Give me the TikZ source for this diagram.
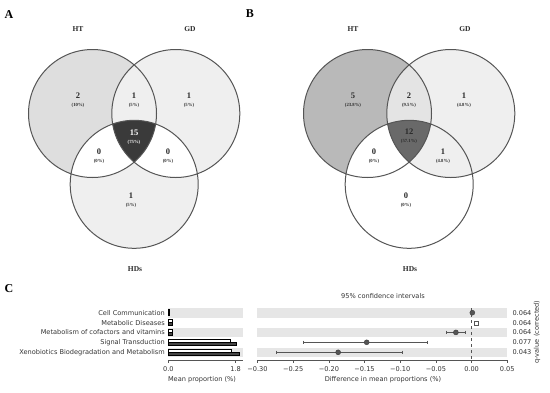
\documentclass[tikz,border=0pt]{standalone}
\usepackage{fontspec}
\setmainfont{Liberation Serif}
\newfontfamily\plotfont{DejaVu Sans}
\usetikzlibrary{positioning}
\definecolor{vennDraw}{HTML}{555555}
\definecolor{vennText}{HTML}{2A2A2A}
\definecolor{aHTfill}{HTML}{DEDEDE}
\definecolor{aLight}{HTML}{EFEFEF}
\definecolor{aTri}{HTML}{3A3A3A}
\definecolor{bHTfill}{HTML}{B9B9B9}
\definecolor{bHTGD}{HTML}{E4E4E4}
\definecolor{bTri}{HTML}{696969}
\definecolor{bandFill}{HTML}{E6E6E6}
\definecolor{plotDraw}{HTML}{555555}
\definecolor{plotText}{HTML}{333333}

\begin{document}
\begin{tikzpicture}[
  x=1pt, y=-1pt,
  vennline/.style={draw=vennDraw, line width=1pt},
  setlab/.style={font=\bfseries\fontsize{7.5}{8}\selectfont, text=vennText},
  panel/.style={font=\bfseries\fontsize{12}{12}\selectfont, text=black},
  cnt/.style={align=center, text=vennText, inner sep=0pt,
              font=\bfseries\fontsize{8.5}{8.5}\selectfont},
  ptxt/.style={font=\plotfont\fontsize{6.6}{7}\selectfont, text=plotText},
  rowlab/.style={ptxt, anchor=east, inner sep=1pt},
  band/.style={fill=bandFill},
  barA/.style={fill=white, draw=black, line width=0.5pt},
  barB/.style={fill=plotDraw!80!black, draw=black, line width=0.5pt},
  spine/.style={draw=plotDraw, line width=0.5pt},
  errbar/.style={draw=plotDraw, line width=0.8pt},
  dot/.style={circle, fill=plotDraw, draw=plotDraw!70!black, minimum size=5pt, inner sep=0pt},
  sq/.style={rectangle, fill=white, draw=plotDraw, minimum size=4pt, inner sep=0pt},
]
\useasboundingbox (0,0) rectangle (550,392);
\def\vennR{64}
\newcommand{\pctsz}{\bfseries\fontsize{4.7}{5}\selectfont}

% ---- Panel A: Venn diagram ----
\node[panel] (pA) at (9,15) {A};
\coordinate (htA) at (92.5,113.5);
\coordinate (gdA) at (175.8,113.5);
\coordinate (hdA) at (134.2,184.3);
\fill[aHTfill] (htA) circle (\vennR);
\fill[aLight]  (gdA) circle (\vennR);
\fill[aLight]  (hdA) circle (\vennR);
\begin{scope}
  \clip (htA) circle (\vennR);
  \fill[aLight] (gdA) circle (\vennR);
  \fill[white]  (hdA) circle (\vennR);
\end{scope}
\begin{scope}
  \clip (gdA) circle (\vennR);
  \fill[white] (hdA) circle (\vennR);
  \clip (htA) circle (\vennR);
  \fill[aTri]  (hdA) circle (\vennR);
\end{scope}
\draw[vennline] (htA) circle (\vennR) (gdA) circle (\vennR) (hdA) circle (\vennR);

\node[setlab] (htlabA) at (78,29)  {HT};
\node[setlab] (gdlabA) at (190,29) {GD};
\node[setlab] (hdlabA) at (135,269) {HDs};

\node[cnt] (a1) at (78,100)  {2\\[-1pt]{\pctsz (10\%)}};
\node[cnt] (a2) at (134,100) {1\\[-1pt]{\pctsz (5\%)}};
\node[cnt] (a3) at (189,100) {1\\[-1pt]{\pctsz (5\%)}};
\node[cnt, text=white] (a4) at (134,137) {15\\[-1pt]{\pctsz (75\%)}};
\node[cnt] (a5) at (99,156)  {0\\[-1pt]{\pctsz (0\%)}};
\node[cnt] (a6) at (168,156) {0\\[-1pt]{\pctsz (0\%)}};
\node[cnt] (a7) at (131,200) {1\\[-1pt]{\pctsz (5\%)}};

% ---- Panel B: Venn diagram ----
\node[panel] (pB) at (250,14) {B};
\coordinate (htB) at (367.5,113.5);
\coordinate (gdB) at (450.8,113.5);
\coordinate (hdB) at (409.2,184.3);
\fill[bHTfill] (htB) circle (\vennR);
\fill[aLight]  (gdB) circle (\vennR);
\fill[white]   (hdB) circle (\vennR);
\begin{scope}
  \clip (htB) circle (\vennR);
  \fill[bHTGD] (gdB) circle (\vennR);
  \fill[white] (hdB) circle (\vennR);
\end{scope}
\begin{scope}
  \clip (gdB) circle (\vennR);
  \fill[aLight] (hdB) circle (\vennR);
  \clip (htB) circle (\vennR);
  \fill[bTri]   (hdB) circle (\vennR);
\end{scope}
\draw[vennline] (htB) circle (\vennR) (gdB) circle (\vennR) (hdB) circle (\vennR);

\node[setlab] (htlabB) at (353,29)  {HT};
\node[setlab] (gdlabB) at (465,29)  {GD};
\node[setlab] (hdlabB) at (410,269) {HDs};

\node[cnt] (b1) at (353,100) {5\\[-1pt]{\pctsz (23.8\%)}};
\node[cnt] (b2) at (409,100) {2\\[-1pt]{\pctsz (9.5\%)}};
\node[cnt] (b3) at (464,100) {1\\[-1pt]{\pctsz (4.8\%)}};
\node[cnt] (b4) at (409,136) {12\\[-1pt]{\pctsz (57.1\%)}};
\node[cnt] (b5) at (374,156) {0\\[-1pt]{\pctsz (0\%)}};
\node[cnt] (b6) at (443,156) {1\\[-1pt]{\pctsz (4.8\%)}};
\node[cnt] (b7) at (406,200) {0\\[-1pt]{\pctsz (0\%)}};

% ---- Panel C: mean proportions ----
\node[panel] (pC) at (9,289) {C};
\fill[band] (168.3,308) rectangle (242.7,317.5);
\fill[band] (168.3,327.6) rectangle (242.7,337.1);
\fill[band] (168.3,347.6) rectangle (242.7,357.1);

\node[rowlab] (lcell) at (166,312.7) {Cell Communication};
\node[rowlab] (lmetd) at (166,322.7) {Metabolic Diseases};
\node[rowlab] (lcof)  at (166,332.4) {Metabolism of cofactors and vitamins};
\node[rowlab] (lsig)  at (166,342.3) {Signal Transduction};
\node[rowlab] (lxen)  at (166,352.3) {Xenobiotics Biodegradation and Metabolism};

\draw[barA] (168.3,309.7) rectangle (168.9,312.7);
\draw[barB] (168.3,312.7) rectangle (168.9,315.7);
\draw[barA] (168.3,319.7) rectangle (172,322.7);
\draw[barB] (168.3,322.7) rectangle (172,325.7);
\draw[barA] (168.3,329.4) rectangle (172.6,332.4);
\draw[barB] (168.3,332.4) rectangle (172.6,335.4);
\draw[barA] (168.3,339.3) rectangle (230,342.3);
\draw[barB] (168.3,342.3) rectangle (236,345.3);
\draw[barA] (168.3,349.3) rectangle (231,352.3);
\draw[barB] (168.3,352.3) rectangle (239.3,355.3);

\draw[spine] (168.3,360) -- (242.7,360);
\draw[spine] (168.3,360) -- ++(0,2.5) (235.5,360) -- ++(0,2.5);
\node[ptxt] (m0) at (168.3,369) {0.0};
\node[ptxt] (m1) at (235.5,369) {1.8};
\node[ptxt] (mlab) at (202,380) {Mean proportion (\%)};

% ---- Panel C: differences with 95% CI ----
\node[ptxt] (citit) at (383,296) {95\% confidence intervals};
\fill[band] (257.3,308) rectangle (507.3,317.5);
\fill[band] (257.3,327.6) rectangle (507.3,337.1);
\fill[band] (257.3,347.6) rectangle (507.3,357.1);
\draw[spine] (257.3,360) -- (507.3,360);

\begin{scope}[shift={(471.6,0)}, x=713.7pt]
  \draw[plotDraw, dashed, line width=0.5pt] (0,308) -- (0,360);
  \foreach \v/\t in {-0.30/−0.30, -0.25/−0.25, -0.20/−0.20, -0.15/−0.15,
                     -0.10/−0.10, -0.05/−0.05, 0.00/0.00, 0.05/0.05}
    \draw[spine] (\v,360) -- ++(0,2.5) node[ptxt, below=1pt] {\t};
  % error bars
  \draw[errbar] (-0.035,332.4) -- (-0.009,332.4)
        (-0.035,330.6) -- (-0.035,334.2) (-0.009,330.6) -- (-0.009,334.2);
  \draw[errbar] (-0.236,342.3) -- (-0.0615,342.3)
        (-0.236,340.5) -- (-0.236,344.1) (-0.0615,340.5) -- (-0.0615,344.1);
  \draw[errbar] (-0.274,352.3) -- (-0.0965,352.3)
        (-0.274,350.5) -- (-0.274,354.1) (-0.0965,350.5) -- (-0.0965,354.1);
  % means
  \node[dot] (dcell) at (0.001,312.7) {};
  \node[sq]  (dmetd) at (0.007,323) {};
  \node[dot] (dcof)  at (-0.022,332.4) {};
  \node[dot] (dsig)  at (-0.147,342.3) {};
  \node[dot] (dxen)  at (-0.187,352.3) {};
\end{scope}

\node[ptxt] (dlab) at (383,380) {Difference in mean proportions (\%)};

\node[ptxt, anchor=west] (q1) at (509,312.7) {0.064};
\node[ptxt, anchor=west] (q2) at (509,322.7) {0.064};
\node[ptxt, anchor=west] (q3) at (509,332.4) {0.064};
\node[ptxt, anchor=west] (q4) at (509,342.3) {0.077};
\node[ptxt, anchor=west] (q5) at (509,352.3) {0.043};
\node[ptxt, rotate=90] (qlab) at (537,332) {q-value (corrected)};

\end{tikzpicture}
\end{document}
